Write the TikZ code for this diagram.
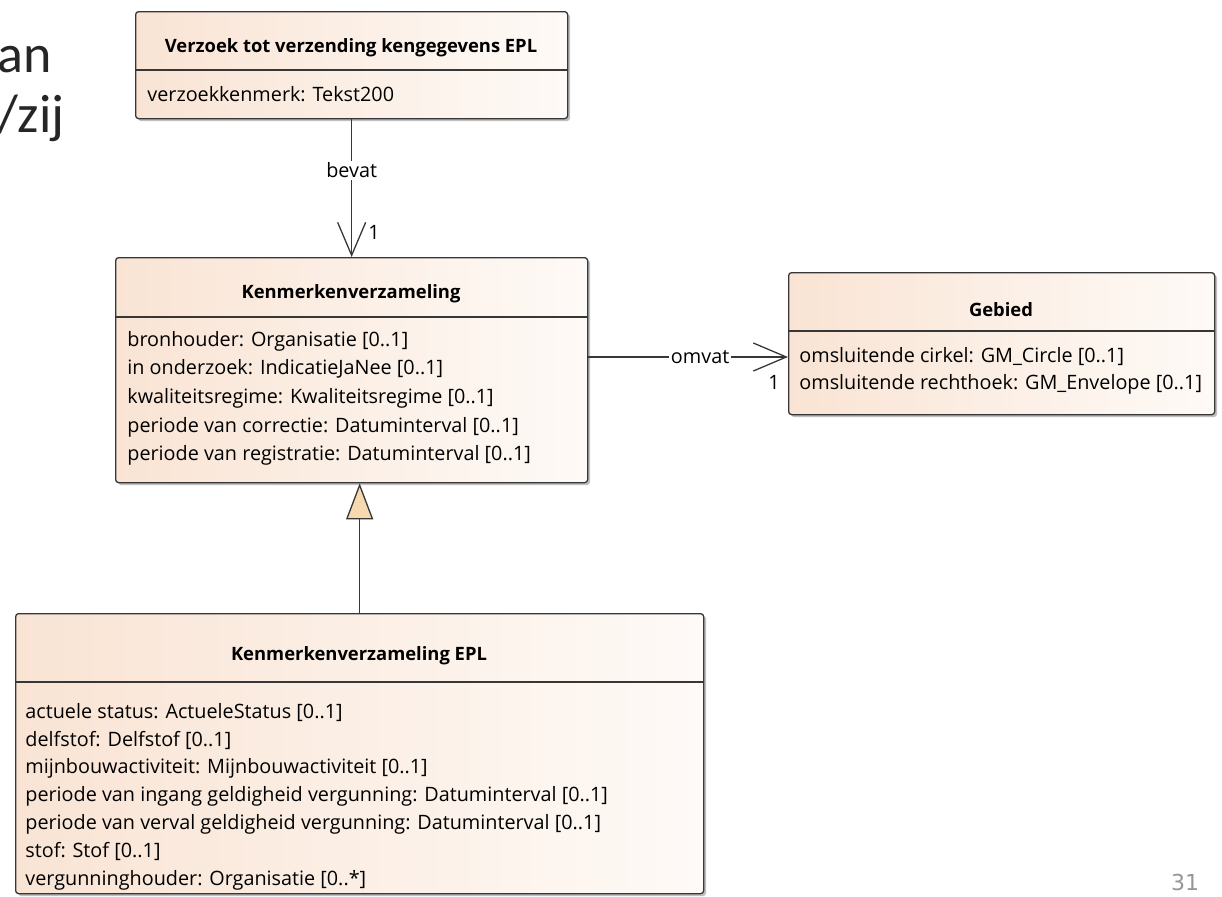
\documentclass[tikz,border=0pt]{standalone}
\usepackage{fontspec}
\setmainfont{Open Sans}
\newfontfamily\slidefont{Carlito}
\newfontfamily\pagefont{DejaVu Sans}
\usetikzlibrary{positioning,arrows.meta,shadows}

\definecolor{classleft}{RGB}{249,228,212}
\definecolor{classright}{RGB}{254,250,247}
\definecolor{genfill}{RGB}{246,217,174}
\definecolor{umlline}{RGB}{55,55,55}
\definecolor{pagegray}{RGB}{150,150,150}

\begin{document}
\begin{tikzpicture}[x=0.5pt,y=-0.5pt]
        \tikzstyle{classbox} = [draw=umlline, line width=0.65pt, rounded corners=1.5pt, left color=classleft, right color=classright, anchor=north west, inner sep=0pt, drop shadow={shadow xshift=1.2pt, shadow yshift=-1.2pt, opacity=0.25, fill=black}]
        \tikzstyle{classname} = [font=\fontsize{9.2}{11}\selectfont\bfseries, anchor=base, inner sep=0pt]
        \tikzstyle{attr} = [font=\fontsize{9.9}{12}\selectfont, anchor=west, inner sep=0pt, text height=7.6pt, text depth=2.4pt]
        \tikzstyle{divider} = [draw=umlline, line width=0.65pt]
        \tikzstyle{assoc} = [draw=umlline, line width=0.65pt, -{Straight Barb[length=16.5pt,width=14pt,line width=0.65pt]}]
        \tikzstyle{inherit} = [draw=umlline, line width=0.65pt, -{Triangle[length=18pt,width=13.5pt,fill=genfill,line width=0.65pt]}]
        \tikzstyle{linklabel} = [font=\fontsize{9.9}{12}\selectfont, fill=white, inner sep=1pt]
        \tikzstyle{mult} = [font=\fontsize{9.9}{12}\selectfont, inner sep=0pt]
        \tikzstyle{slidetext} = [font=\slidefont\fontsize{27}{32}\selectfont, text=black!85, anchor=base east, inner sep=0pt]

        \useasboundingbox (0,0) rectangle (1222,896);

        % slide text behind the diagram
        \node (slidean) [slidetext] at (52,72) {an};
        \node (slidezij) [slidetext] at (65,132) {/zij};

        % Verzoek tot verzending
        \node (verzoek) [classbox, minimum width=216pt, minimum height=53.5pt] at (135,11) {};
        \node (verzoekname) [classname] at (351,52) {Verzoek tot verzending kengegevens EPL};
        \draw [divider] (verzoek.west |- 0,70) -- (verzoek.east |- 0,70);
        \node (verzoekkenmerk) [attr] at (147,96) {verzoekkenmerk: Tekst200};

        % Kenmerkenverzameling
        \node (kenmerken) [classbox, minimum width=236pt, minimum height=112.5pt] at (115,257) {};
        \node (kenmerkenname) [classname] at (351,298) {Kenmerkenverzameling};
        \draw [divider] (kenmerken.west |- 0,317) -- (kenmerken.east |- 0,317);
        \node (bronhouder) [attr] at (127,341) {bronhouder: Organisatie [0..1]};
        \node (onderzoek) [attr, below=14.3pt of bronhouder.west, anchor=west] {in onderzoek: IndicatieJaNee [0..1]};
        \node (kwaliteit) [attr, below=14.3pt of onderzoek.west, anchor=west] {kwaliteitsregime: Kwaliteitsregime [0..1]};
        \node (correctie) [attr, below=14.3pt of kwaliteit.west, anchor=west] {periode van correctie: Datuminterval [0..1]};
        \node (registratie) [attr, below=14.3pt of correctie.west, anchor=west] {periode van registratie: Datuminterval [0..1]};

        % Gebied
        \node (gebied) [classbox, minimum width=213pt, minimum height=71pt] at (788,272) {};
        \node (gebiedname) [classname] at (1001,316) {Gebied};
        \draw [divider] (gebied.west |- 0,331) -- (gebied.east |- 0,331);
        \node (cirkel) [attr] at (799,357) {omsluitende cirkel: GM\_Circle [0..1]};
        \node (rechthoek) [attr, below=13.8pt of cirkel.west, anchor=west] {omsluitende rechthoek: GM\_Envelope [0..1]};

        % Kenmerkenverzameling EPL
        \node (epl) [classbox, minimum width=344pt, minimum height=140pt] at (15,613) {};
        \node (eplname) [classname] at (359,660) {Kenmerkenverzameling EPL};
        \draw [divider] (epl.west |- 0,682) -- (epl.east |- 0,682);
        \node (status) [attr] at (25,713) {actuele status: ActueleStatus [0..1]};
        \node (delfstof) [attr, below=13.9pt of status.west, anchor=west] {delfstof: Delfstof [0..1]};
        \node (mijnbouw) [attr, below=13.9pt of delfstof.west, anchor=west] {mijnbouwactiviteit: Mijnbouwactiviteit [0..1]};
        \node (ingang) [attr, below=13.9pt of mijnbouw.west, anchor=west] {periode van ingang geldigheid vergunning: Datuminterval [0..1]};
        \node (verval) [attr, below=13.9pt of ingang.west, anchor=west] {periode van verval geldigheid vergunning: Datuminterval [0..1]};
        \node (stof) [attr, below=13.9pt of verval.west, anchor=west] {stof: Stof [0..1]};
        \node (houder) [attr, below=13.9pt of stof.west, anchor=west] {vergunninghouder: Organisatie [0..*]};

        % connectors
        \draw [assoc] (verzoek.south) -- node (bevat) [linklabel, pos=0.37] {bevat} node (bevatmult) [mult, pos=0.82, right=8pt] {1} (verzoek.south |- kenmerken.north);
        \draw [assoc] (kenmerken.east |- cirkel) -- node (omvat) [linklabel, pos=0.56] {omvat} node (omvatmult) [mult, pos=0.93, below=9pt] {1} (gebied.west |- cirkel);
        \draw [inherit] (epl.north) -- (epl.north |- kenmerken.south);

        \node (pagenr) [font=\pagefont\fontsize{11}{13}\selectfont, text=pagegray, anchor=base] at (1185,890) {31};
\end{tikzpicture}
\end{document}
